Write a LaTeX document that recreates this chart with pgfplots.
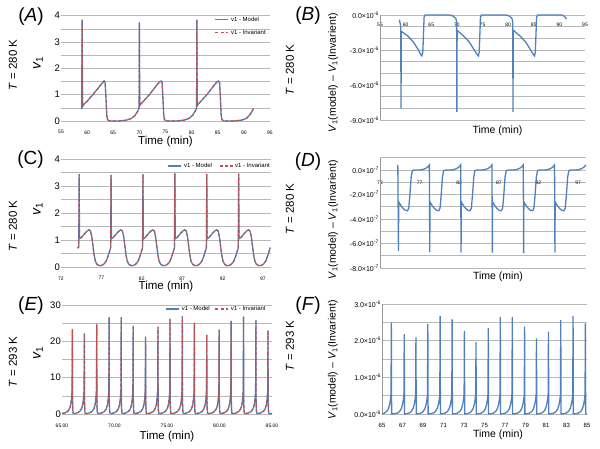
\documentclass[border=0pt]{standalone}
\usepackage{pgfplots}
\pgfplotsset{compat=1.18}
\usepackage{pgfplotstable}
\usepackage{fontspec}
\setmainfont{Liberation Sans}
\definecolor{mblue}{HTML}{4F81BD}
\definecolor{ired}{HTML}{C0504D}
\definecolor{gridc}{HTML}{B8B8B8}

\pgfplotstableread{
t v
58.95 0.45
59.05 3.85
59.12 0.55
59.3 0.62
60.0 0.75
61.0 0.98
62.0 1.22
62.8 1.42
63.25 1.52
63.45 1.45
63.6 0.9
63.75 0.25
63.9 0.05
64.3 0.0
66.0 0.0
67.5 0.03
68.5 0.1
69.2 0.22
69.7 0.38
69.95 0.5
70.0 3.75
70.07 0.58
70.3 0.65
71.0 0.8
72.0 1.02
73.0 1.28
73.8 1.48
74.15 1.52
74.35 1.45
74.5 0.9
74.65 0.25
74.8 0.05
75.2 0.0
77.0 0.0
78.5 0.03
79.5 0.1
80.2 0.22
80.7 0.38
80.95 0.5
81.0 3.85
81.07 0.58
81.3 0.65
82.0 0.8
83.0 1.02
84.0 1.28
84.8 1.48
85.15 1.52
85.35 1.45
85.5 0.9
85.65 0.25
85.8 0.05
86.2 0.0
88.0 0.0
89.5 0.03
90.5 0.1
91.2 0.25
91.6 0.38
91.8 0.47
}\dataA

\pgfplotstableread{
t d
58.8 -0.4
59.05 -1.0
59.1 -8.0
59.15 -1.4
59.5 -1.5
60.3 -1.75
61.5 -2.3
62.5 -3.0
62.9 -3.35
63.15 -3.5
63.35 -3.2
63.5 -1.5
63.6 -0.2
63.8 0.0
68.6 0.0
69.3 -0.1
69.8 -0.3
69.95 -0.6
70.0 -8.3
70.05 -1.3
70.4 -1.45
71.2 -1.75
72.4 -2.3
73.4 -3.0
73.9 -3.35
74.2 -3.5
74.35 -3.2
74.5 -1.5
74.6 -0.2
74.8 0.0
79.6 0.0
80.3 -0.1
80.75 -0.3
80.9 -0.6
80.95 -8.3
81.0 -1.3
81.4 -1.45
82.2 -1.75
83.4 -2.3
84.4 -3.0
84.85 -3.35
85.15 -3.5
85.3 -3.2
85.45 -1.5
85.55 -0.2
85.75 0.0
90.5 0.0
91.0 -0.12
91.4 -0.35
}\dataB

\pgfplotstableread{
t v
74.05 0.7
74.2 0.75
74.25 3.45
74.29 1.05
74.55 1.1
74.95 1.25
75.25 1.34
75.45 1.38
75.65 1.34
75.8 1.15
75.95 0.8
76.1 0.45
76.25 0.22
76.45 0.1
76.75 0.05
77.05 0.06
77.35 0.12
77.6 0.22
77.85 0.42
78.05 0.62
78.15 0.72
78.2 3.42
78.24 1.05
78.5 1.1
78.9 1.25
79.2 1.34
79.4 1.38
79.6 1.34
79.75 1.15
79.9 0.8
80.05 0.45
80.2 0.22
80.4 0.1
80.7 0.05
81.0 0.06
81.3 0.12
81.55 0.22
81.8 0.42
82.0 0.62
82.1 0.72
82.15 3.45
82.19 1.05
82.45 1.1
82.85 1.25
83.15 1.34
83.35 1.38
83.55 1.34
83.7 1.15
83.85 0.8
84.0 0.45
84.15 0.22
84.35 0.1
84.65 0.05
84.95 0.06
85.25 0.12
85.5 0.22
85.75 0.42
85.95 0.62
86.05 0.72
86.1 3.48
86.14 1.05
86.4 1.1
86.8 1.25
87.1 1.34
87.3 1.38
87.5 1.34
87.65 1.15
87.8 0.8
87.95 0.45
88.1 0.22
88.3 0.1
88.6 0.05
88.9 0.06
89.2 0.12
89.45 0.22
89.7 0.42
89.9 0.62
90.0 0.72
90.05 3.45
90.09 1.05
90.35 1.1
90.75 1.25
91.05 1.34
91.25 1.38
91.45 1.34
91.6 1.15
91.75 0.8
91.9 0.45
92.05 0.22
92.25 0.1
92.55 0.05
92.85 0.06
93.15 0.12
93.4 0.22
93.65 0.42
93.85 0.62
93.95 0.72
94.0 3.47
94.04 1.05
94.3 1.1
94.7 1.25
95.0 1.34
95.2 1.38
95.4 1.34
95.55 1.15
95.7 0.8
95.85 0.45
96.0 0.22
96.2 0.1
96.5 0.05
96.8 0.06
97.1 0.12
97.35 0.22
97.6 0.42
97.8 0.62
97.9 0.72
}\dataC

\pgfplotstableread{
t d
74.25 0.42
74.33 -6.6
74.36 -2.6
74.63 -2.9
74.93 -3.15
75.23 -3.3
75.48 -3.32
75.63 -3.1
75.78 -2.0
75.93 -0.6
76.08 -0.05
76.33 0.0
76.93 0.0
77.33 0.03
77.73 0.12
78.03 0.25
78.23 0.42
78.28 -6.7
78.31 -2.6
78.58 -2.9
78.88 -3.15
79.18 -3.3
79.43 -3.32
79.58 -3.1
79.73 -2.0
79.88 -0.6
80.03 -0.05
80.28 0.0
80.88 0.0
81.28 0.03
81.68 0.12
81.98 0.25
82.18 0.42
82.23 -6.75
82.26 -2.6
82.53 -2.9
82.83 -3.15
83.13 -3.3
83.38 -3.32
83.53 -3.1
83.68 -2.0
83.83 -0.6
83.98 -0.05
84.23 0.0
84.83 0.0
85.23 0.03
85.63 0.12
85.93 0.25
86.13 0.42
86.18 -6.75
86.21 -2.6
86.48 -2.9
86.78 -3.15
87.08 -3.3
87.33 -3.32
87.48 -3.1
87.63 -2.0
87.78 -0.6
87.93 -0.05
88.18 0.0
88.78 0.0
89.18 0.03
89.58 0.12
89.88 0.25
90.08 0.42
90.13 -6.8
90.16 -2.6
90.43 -2.9
90.73 -3.15
91.03 -3.3
91.28 -3.32
91.43 -3.1
91.58 -2.0
91.73 -0.6
91.88 -0.05
92.13 0.0
92.73 0.0
93.13 0.03
93.53 0.12
93.83 0.25
94.03 0.42
94.08 -6.75
94.11 -2.6
94.38 -2.9
94.68 -3.15
94.98 -3.3
95.23 -3.32
95.38 -3.1
95.53 -2.0
95.68 -0.6
95.83 -0.05
96.08 0.0
96.68 0.0
97.08 0.03
97.48 0.12
97.78 0.25
97.98 0.42
}\dataD

\pgfplotstableread{
t v
65.0 0.15
65.29 0.3
65.54 0.7
65.71 1.4
65.83 2.5
65.91 4.2
65.96 6.5
65.99 23.3
66.005 4
66.03 1.0
66.07 0.2
66.19 0.1
66.43 0.3
66.68 0.7
66.85 1.4
66.97 2.5
67.05 4.2
67.10 6.5
67.13 22.2
67.145 4
67.17 1.0
67.21 0.2
67.33 0.1
67.61 0.3
67.86 0.7
68.03 1.4
68.15 2.5
68.23 4.2
68.28 6.5
68.31 24.7
68.325 4
68.35 1.0
68.39 0.2
68.51 0.1
68.79 0.3
69.04 0.7
69.21 1.4
69.33 2.5
69.41 4.2
69.46 6.5
69.49 26.6
69.505 4
69.53 1.0
69.57 0.2
69.69 0.1
69.94 0.3
70.19 0.7
70.36 1.4
70.48 2.5
70.56 4.2
70.61 6.5
70.64 26.6
70.655 4
70.68 1.0
70.72 0.2
70.84 0.1
71.08 0.3
71.33 0.7
71.50 1.4
71.62 2.5
71.70 4.2
71.75 6.5
71.78 24.3
71.795 4
71.82 1.0
71.86 0.2
71.98 0.1
72.26 0.3
72.51 0.7
72.68 1.4
72.80 2.5
72.88 4.2
72.93 6.5
72.96 21.3
72.975 4
73.00 1.0
73.04 0.2
73.16 0.1
73.44 0.3
73.69 0.7
73.86 1.4
73.98 2.5
74.06 4.2
74.11 6.5
74.14 24.0
74.155 4
74.18 1.0
74.22 0.2
74.34 0.1
74.59 0.3
74.84 0.7
75.01 1.4
75.13 2.5
75.21 4.2
75.26 6.5
75.29 26.2
75.305 4
75.33 1.0
75.37 0.2
75.49 0.1
75.76 0.3
76.01 0.7
76.18 1.4
76.30 2.5
76.38 4.2
76.43 6.5
76.46 26.9
76.475 4
76.50 1.0
76.54 0.2
76.66 0.1
76.91 0.3
77.16 0.7
77.33 1.4
77.45 2.5
77.53 4.2
77.58 6.5
77.61 25.1
77.625 4
77.65 1.0
77.69 0.2
77.81 0.1
78.09 0.3
78.34 0.7
78.51 1.4
78.63 2.5
78.71 4.2
78.76 6.5
78.79 21.8
78.805 4
78.83 1.0
78.87 0.2
78.99 0.1
79.27 0.3
79.52 0.7
79.69 1.4
79.81 2.5
79.89 4.2
79.94 6.5
79.97 23.2
79.985 4
80.01 1.0
80.05 0.2
80.17 0.1
80.41 0.3
80.66 0.7
80.83 1.4
80.95 2.5
81.03 4.2
81.08 6.5
81.11 25.6
81.125 4
81.15 1.0
81.19 0.2
81.31 0.1
81.59 0.3
81.84 0.7
82.01 1.4
82.13 2.5
82.21 4.2
82.26 6.5
82.29 26.8
82.305 4
82.33 1.0
82.37 0.2
82.49 0.1
82.77 0.3
83.02 0.7
83.19 1.4
83.31 2.5
83.39 4.2
83.44 6.5
83.47 25.9
83.485 4
83.51 1.0
83.55 0.2
83.67 0.1
83.92 0.3
84.17 0.7
84.34 1.4
84.46 2.5
84.54 4.2
84.59 6.5
84.62 23.0
84.635 4
84.66 1.0
84.70 0.2
84.82 0.1
85.0 0.15
}\dataE

\pgfplotstableread{
t d
65.0 0.0
65.21 0.02
65.46 0.07
65.63 0.15
65.75 0.27
65.83 0.4
65.88 0.55
65.91 2.49
65.94 0.0
66.47 0.02
66.72 0.07
66.89 0.15
67.01 0.27
67.09 0.4
67.14 0.55
67.17 2.18
67.20 0.0
67.61 0.02
67.86 0.07
68.03 0.15
68.15 0.27
68.23 0.4
68.28 0.55
68.31 2.09
68.34 0.0
68.77 0.02
69.02 0.07
69.19 0.15
69.31 0.27
69.39 0.4
69.44 0.55
69.47 2.45
69.50 0.0
69.97 0.02
70.22 0.07
70.39 0.15
70.51 0.27
70.59 0.4
70.64 0.55
70.67 2.67
70.70 0.0
71.14 0.02
71.39 0.07
71.56 0.15
71.68 0.27
71.76 0.4
71.81 0.55
71.84 2.58
71.87 0.0
72.34 0.02
72.59 0.07
72.76 0.15
72.88 0.27
72.96 0.4
73.01 0.55
73.04 2.27
73.07 0.0
73.47 0.02
73.72 0.07
73.89 0.15
74.01 0.27
74.09 0.4
74.14 0.55
74.17 1.96
74.20 0.0
74.67 0.02
74.92 0.07
75.09 0.15
75.21 0.27
75.29 0.4
75.34 0.55
75.37 2.35
75.40 0.0
75.84 0.02
76.09 0.07
76.26 0.15
76.38 0.27
76.46 0.4
76.51 0.55
76.54 2.64
76.57 0.0
77.01 0.02
77.26 0.07
77.43 0.15
77.55 0.27
77.63 0.4
77.68 0.55
77.71 2.64
77.74 0.0
78.21 0.02
78.46 0.07
78.63 0.15
78.75 0.27
78.83 0.4
78.88 0.55
78.91 2.38
78.94 0.0
79.37 0.02
79.62 0.07
79.79 0.15
79.91 0.27
79.99 0.4
80.04 0.55
80.07 2.06
80.10 0.0
80.54 0.02
80.79 0.07
80.96 0.15
81.08 0.27
81.16 0.4
81.21 0.55
81.24 2.25
81.27 0.0
81.74 0.02
81.99 0.07
82.16 0.15
82.28 0.27
82.36 0.4
82.41 0.55
82.44 2.56
82.47 0.0
82.94 0.02
83.19 0.07
83.36 0.15
83.48 0.27
83.56 0.4
83.61 0.55
83.64 2.67
83.67 0.0
84.14 0.02
84.39 0.07
84.56 0.15
84.68 0.27
84.76 0.4
84.81 0.55
84.84 2.47
84.87 0.0
85.0 0.0
}\dataF

\pgfplotsset{
  panel/.style={
    scale only axis, anchor=south west, clip=false,
    axis line style={draw=none},
    tick style={draw=none}, major tick length=0pt, minor tick length=0pt,
    /pgf/number format/assume math mode=true,
    ymajorgrids, yminorgrids,
    major grid style={gridc, line width=0.6pt},
    minor grid style={gridc, line width=0.6pt},
    xlabel={Time (min)},
    label style={font=\fontsize{11.5}{13}\selectfont},
    yticklabel style={font=\fontsize{9.5}{11}\selectfont, inner sep=1pt},
    xticklabel style={font=\fontsize{5}{6}\selectfont},
    legend style={draw=none, fill=none, font=\fontsize{6}{7}\selectfont, inner sep=0pt},
    legend cell align=left,
    legend image code/.code={\draw[##1] (0pt,0pt) -- (13pt,0pt);},
  },
  diffpanel/.style={
    panel,
    yticklabel style={font=\fontsize{7}{8}\selectfont, inner sep=1pt},
    label style={font=\fontsize{10.5}{12}\selectfont},
  },
  model/.style={mblue, line width=1.3pt},
  inv/.style={ired, line width=1.1pt, dash pattern=on 3pt off 2.2pt},
}

\begin{document}
\begin{tikzpicture}
\useasboundingbox (0pt,0pt) rectangle (600pt,448pt);

% ---------- (A) ----------
\begin{axis}[panel, at={(61pt,327pt)}, width=209pt, height=105.3pt,
  xmin=55, xmax=95, ymin=0, ymax=4,
  xtick={55,60,...,95}, ytick={0,1,2,3,4}, minor y tick num=1,
  xticklabel style={yshift=-6pt},
  xlabel style={at={(axis description cs:0.5,0)}, anchor=center, yshift=-21pt},
  ylabel={\textit{v}\textsubscript{1}},
  ylabel style={at={(axis description cs:-0.110,0.551)}, anchor=center, font=\fontsize{14}{16}\selectfont},
  legend style={at={(0.99,0.9)}, anchor=east, row sep=3pt}]
\addplot[model] table {\dataA};
\addlegendentry{v1 - Model}
\addplot[inv] table {\dataA};
\addlegendentry{v1 - Invariant}
\end{axis}

% ---------- (B) ----------
\begin{axis}[diffpanel, at={(380pt,328pt)}, width=205pt, height=105pt,
  xmin=55, xmax=95, ymin=-9, ymax=0,
  xtick={55,60,...,95}, ytick={-9,-6,-3,0}, minor y tick num=2,
  yticklabels={-9.0×10\textsuperscript{-6},-6.0×10\textsuperscript{-6},-3.0×10\textsuperscript{-6},0.0×10\textsuperscript{-6}},
  xticklabel pos=upper,
  xticklabel style={anchor=center, yshift=-10pt},
  xlabel style={at={(axis description cs:0.5,0)}, anchor=center, yshift=-11pt, xshift=15pt},
  ylabel={\textit{V}\textsubscript{1}(model) – \textit{V}\textsubscript{1}(Invarient)},
  ylabel style={at={(axis description cs:-0.229,0.448)}, anchor=center}]
\draw[gray!80, line width=0.6pt] (rel axis cs:0,0) -- (rel axis cs:0,1);
\addplot[model] table {\dataB};
\end{axis}

% ---------- (C) ----------
\begin{axis}[panel, at={(61pt,181pt)}, width=210pt, height=107.7pt,
  xmin=72, xmax=98, ymin=0, ymax=4,
  xtick={72,77,...,97}, ytick={0,1,2,3,4}, minor y tick num=1,
  xticklabel style={yshift=-6pt},
  xlabel style={at={(axis description cs:0.5,0)}, anchor=center, yshift=-19.7pt},
  ylabel={\textit{v}\textsubscript{1}},
  ylabel style={at={(axis description cs:-0.110,0.539)}, anchor=center, font=\fontsize{14}{16}\selectfont},
  legend columns=2,
  legend style={at={(1.005,0.938)}, anchor=east, /tikz/every even column/.append style={column sep=5pt}}]
\addplot[model] table {\dataC};
\addlegendentry{v1 - Model}
\addplot[inv] table {\dataC};
\addlegendentry{v1 - Invariant}
\end{axis}

% ---------- (D) ----------
\begin{axis}[diffpanel, at={(380pt,180pt)}, width=206pt, height=110.25pt,
  xmin=72, xmax=98, ymin=-8, ymax=1,
  xtick={72,77,...,97}, ytick={-8,-6,-4,-2,0}, minor y tick num=1,
  extra y ticks={1}, extra y tick labels={}, extra y tick style={grid=major},
  yticklabels={-8.0×10\textsuperscript{-7},-6.0×10\textsuperscript{-7},-4.0×10\textsuperscript{-7},-2.0×10\textsuperscript{-7},0.0×10\textsuperscript{-7}},
  xticklabel pos=upper,
  xticklabel style={anchor=center, yshift=-25.25pt},
  xlabel style={at={(axis description cs:0.5,0)}, anchor=center, yshift=-8.4pt, xshift=15pt},
  ylabel={\textit{V}\textsubscript{1}(model) – \textit{V}\textsubscript{1}(Invarient)},
  ylabel style={at={(axis description cs:-0.228,0.435)}, anchor=center}]
\draw[gray!80, line width=0.6pt] (rel axis cs:0,0) -- (rel axis cs:0,1);
\addplot[model] table {\dataD};
\end{axis}

% ---------- (E) ----------
\begin{axis}[panel, at={(62pt,34pt)}, width=210pt, height=109pt,
  xmin=65, xmax=85, ymin=0, ymax=30,
  xtick={65,70,75,80,85}, xticklabels={65.00,70.00,75.00,80.00,85.00},
  ytick={0,10,20,30}, minor y tick num=1,
  xticklabel style={yshift=-6pt},
  xlabel style={at={(axis description cs:0.5,0)}, anchor=center, yshift=-22.7pt},
  ylabel={\textit{v}\textsubscript{1}},
  ylabel style={at={(axis description cs:-0.114,0.56)}, anchor=center, font=\fontsize{14}{16}\selectfont},
  legend columns=2,
  legend style={at={(0.98,0.963)}, anchor=east, /tikz/every even column/.append style={column sep=3pt}}]
\addplot[model] table {\dataE};
\addlegendentry{v1 - Model}
\addplot[inv] table {\dataE};
\addlegendentry{v1 - Invariant}
\end{axis}

% ---------- (F) ----------
\begin{axis}[diffpanel, at={(382pt,34pt)}, width=205pt, height=110pt,
  xmin=65, xmax=85, ymin=0, ymax=3,
  xtick={65,67,...,85}, ytick={0,1,2,3}, minor y tick num=1,
  yticklabels={0.0×10\textsuperscript{-6},1.0×10\textsuperscript{-6},2.0×10\textsuperscript{-6},3.0×10\textsuperscript{-6}},
  xticklabel style={font=\fontsize{6}{7}\selectfont, yshift=-6pt},
  xlabel style={at={(axis description cs:0.5,0)}, anchor=center, yshift=-21pt, xshift=13.5pt},
  ylabel={\textit{V}\textsubscript{1}(model) – \textit{V}\textsubscript{1}(Invarient)},
  ylabel style={at={(axis description cs:-0.239,0.491)}, anchor=center}]
\draw[gray!80, line width=0.6pt] (rel axis cs:0,0) -- (rel axis cs:0,1);
\addplot[model] table {\dataF};
\end{axis}

% ---------- panel letters and temperature labels ----------
\node[font=\fontsize{19}{22}\selectfont] at (31pt,431pt) {(\textit{A})};
\node[font=\fontsize{19}{22}\selectfont] at (30.5pt,288pt) {(C)};
\node[font=\fontsize{19}{22}\selectfont] at (31pt,142pt) {(\textit{E})};
\node[font=\fontsize{19}{22}\selectfont] at (308pt,432pt) {(\textit{B})};
\node[font=\fontsize{19}{22}\selectfont] at (308pt,286pt) {(\textit{D})};
\node[font=\fontsize{19}{22}\selectfont] at (308pt,142pt) {(\textit{F})};

\node[rotate=90, font=\fontsize{11.5}{13}\selectfont] at (13pt,383pt) {\textit{T} = 280 K};
\node[rotate=90, font=\fontsize{11.5}{13}\selectfont] at (13pt,222pt) {\textit{T} = 280 K};
\node[rotate=90, font=\fontsize{11.5}{13}\selectfont] at (13pt,86pt) {\textit{T} = 293 K};
\node[rotate=90, font=\fontsize{11.5}{13}\selectfont] at (290pt,378pt) {\textit{T} = 280 K};
\node[rotate=90, font=\fontsize{11.5}{13}\selectfont] at (290pt,239pt) {\textit{T} = 280 K};
\node[rotate=90, font=\fontsize{11.5}{13}\selectfont] at (290pt,102pt) {\textit{T} = 293 K};
\end{tikzpicture}
\end{document}
